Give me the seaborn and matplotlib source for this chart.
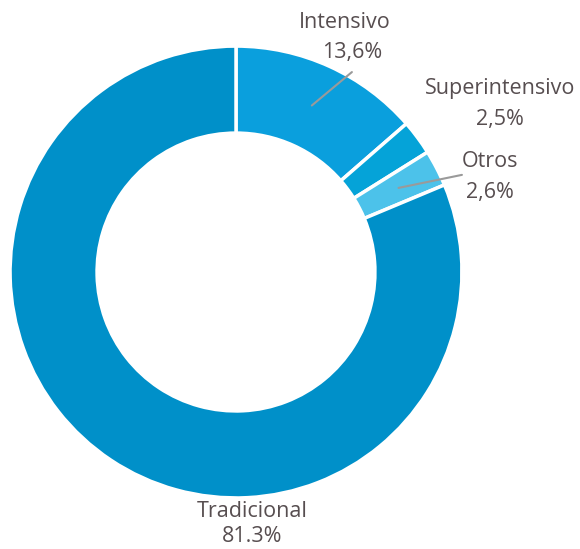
import numpy as np
import seaborn as sns
import matplotlib.pyplot as plt

labels = ["Intensivo", "Superintensivo", "Otros", "Tradicional"]
values = [13.6, 2.5, 2.6, 81.3]
value_text = ["13,6%", "2,5%", "2,6%", "81.3%"]
colors = ["#0a9fdd", "#05a3d8", "#4cc2ea", "#0090c9"]

sns.set_style("white")
plt.rcParams["font.family"] = ["Open Sans", "DejaVu Sans"]
text_color = "#574e50"

fig = plt.figure(figsize=(5.8, 5.49), dpi=100)
ax = fig.add_axes([0, 0, 1, 1])
wedges, _ = ax.pie(
    values,
    colors=colors,
    startangle=90,
    counterclock=False,
    radius=1.0,
    wedgeprops=dict(width=0.385, edgecolor="white", linewidth=2.5),
)
ax.set_xlim(-1.044, 1.522)
ax.set_ylim(-1.226, 1.204)
ax.set_aspect("equal")
ax.axis("off")

# (name line, value line) positions in data units
name_pos = [(0.482, 1.106), (1.168, 0.814), (1.124, 0.487), (0.071, -1.062)]
value_pos = [(0.513, 0.973), (1.168, 0.673), (1.124, 0.354), (0.071, -1.172)]
for lab, vt, npos, vpos in zip(labels, value_text, name_pos, value_pos):
    ax.text(*npos, lab, ha="center", va="center", fontsize=15.5,
            fontweight="medium", color=text_color)
    ax.text(*vpos, vt, ha="center", va="center", fontsize=15.5,
            fontweight="medium", color=text_color)

# leader lines for Intensivo and Otros
for i, end in [(0, (0.513, 0.885)), (2, (1.0, 0.43))]:
    w = wedges[i]
    ang = np.deg2rad((w.theta1 + w.theta2) / 2)
    sx, sy = 0.81 * np.cos(ang), 0.81 * np.sin(ang)
    ax.plot([sx, end[0]], [sy, end[1]], color="#9a9a9a", lw=1.5)

fig.savefig("out.png", dpi=100)
